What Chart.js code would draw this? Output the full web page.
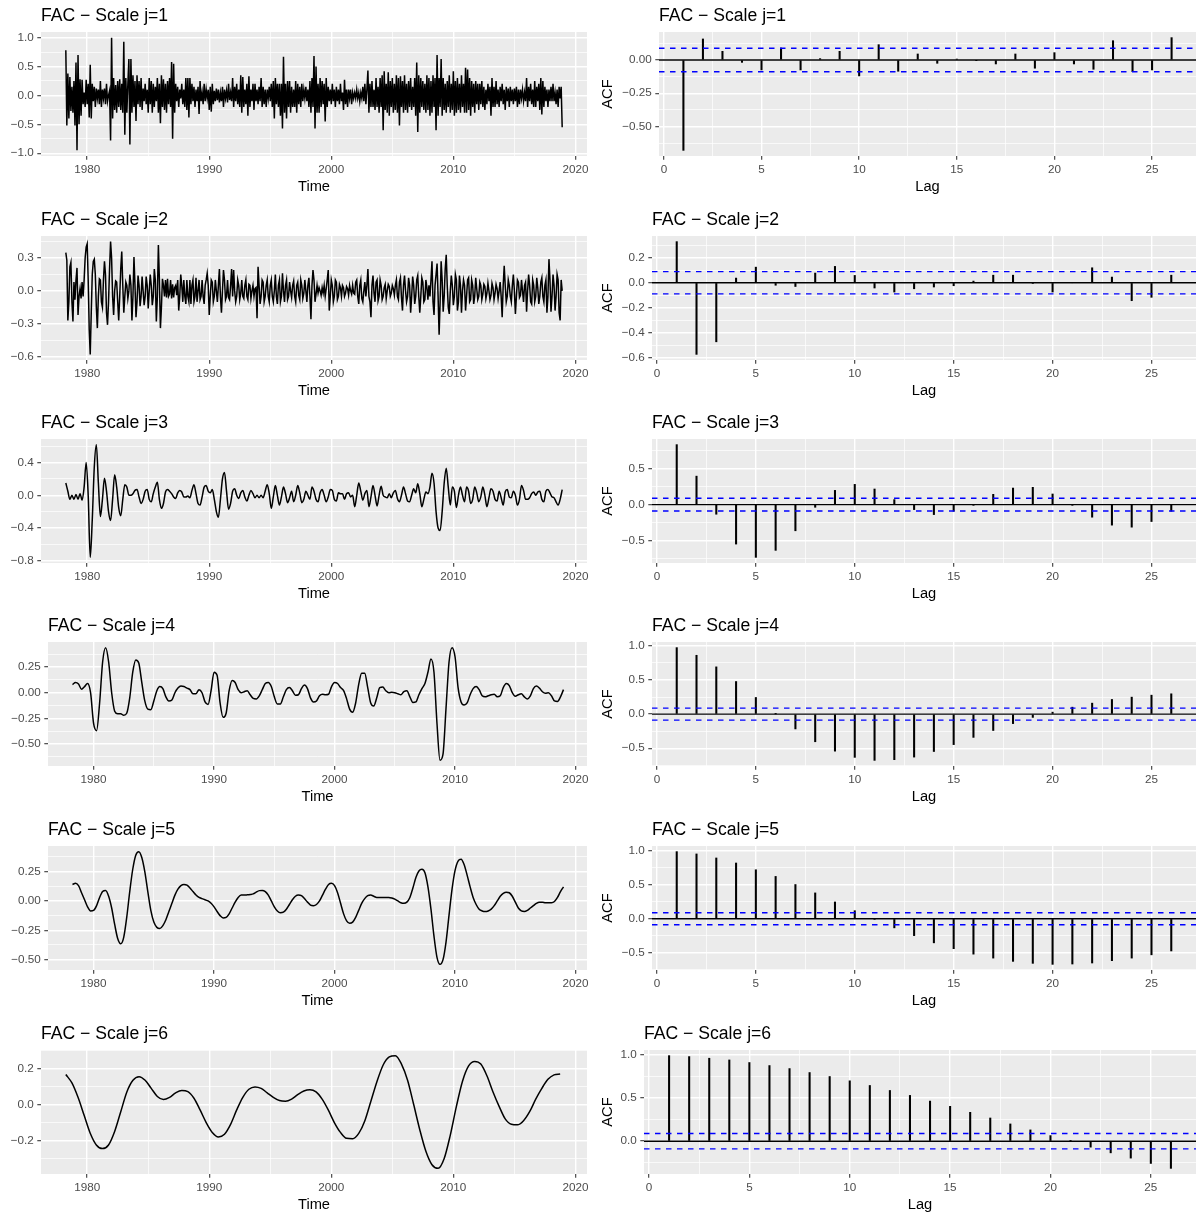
<!DOCTYPE html>
<html>
<head>
<meta charset="utf-8">
<script src="https://cdn.jsdelivr.net/npm/chart.js@4.4.1/dist/chart.umd.min.js"></script>
<style>
    body { margin: 0; background: #ffffff; }
    #page { position: relative; width: 1198px; height: 1216px; background: #ffffff; }
    #page canvas { position: absolute; }
</style>
</head>
<body>
<div id="page"></div>
<script>
// first observation: April 1978
const startYear = 1978.25;

// scale 1 and 2 detail coefficients, monthly
const fac1 = [
    0.78, -0.52, 0.38, -0.40, 0.32, -0.27, 0.15, -0.30, 0.25,
    -0.52, 0.57, -0.95, 0.70, -0.50, 0.28, -0.35, 0.27, -0.15, 0.05, -0.20, 0.27,
    -0.15, 0.20, -0.38, 0.53, -0.40, 0.20, -0.10, 0.15, -0.20, 0.12, -0.05, 0.10,
    -0.15, 0.25, -0.20, 0.10, -0.05, 0.12, -0.15, 0.20, -0.10, 0.00, 0.08, -0.78,
    1.00, -0.40, 0.30, -0.25, 0.18, -0.30, 0.25, -0.20, 0.28, -0.25, 0.20, -0.30,
    0.93, -0.68, 0.30, -0.30, 0.20, 0.63, -0.85, 0.63, -0.30, 0.35, -0.20, 0.25,
    -0.44, 0.35, -0.15, 0.25, -0.20, 0.30, -0.25, 0.12, -0.10, 0.20, -0.15, 0.10,
    -0.30, 0.30, -0.15, 0.25, -0.30, 0.20, -0.20, 0.15, -0.10, 0.30, -0.30, 0.20,
    -0.48, 0.35, -0.20, 0.28, -0.25, 0.20, -0.30, 0.25, -0.15, 0.30, -0.20, 0.58,
    -0.75, 0.55, -0.30, 0.20, -0.10, 0.15, -0.20, 0.10, -0.05, 0.20, -0.15, 0.10,
    -0.20, 0.30, -0.25, 0.30, -0.38, 0.30, -0.15, 0.20, -0.10, 0.15, -0.20, 0.10,
    -0.10, 0.15, -0.32, 0.25, -0.10, 0.05, -0.15, 0.20, -0.10, 0.10, -0.05, 0.10,
    -0.25, 0.15, -0.28, 0.20, -0.15, 0.08, -0.10, 0.12, -0.08, 0.10, -0.12, 0.05,
    -0.10, 0.15, -0.20, 0.10, -0.05, 0.08, -0.12, 0.20, -0.08, 0.05, -0.10, 0.30,
    -0.20, 0.15, -0.10, 0.20, -0.15, 0.10, -0.20, 0.35, -0.30, 0.32, -0.20, 0.10,
    -0.15, 0.20, -0.35, 0.33, -0.20, 0.10, -0.10, 0.20, -0.25, 0.20, -0.10, 0.10,
    -0.15, 0.15, -0.10, 0.30, -0.20, 0.15, -0.15, 0.10, -0.20, 0.10, -0.05, 0.15,
    -0.10, 0.20, -0.20, 0.25, -0.40, 0.30, -0.15, 0.20, -0.20, 0.20, -0.35, 0.20,
    -0.57, 0.67, -0.30, 0.20, -0.40, 0.25, -0.20, 0.25, -0.30, 0.15, -0.20, 0.10,
    -0.20, 0.25, -0.30, 0.20, -0.15, 0.15, -0.20, 0.20, -0.10, 0.10, -0.05, 0.15,
    -0.10, 0.10, -0.20, 0.25, -0.30, 0.30, -0.20, 0.68, -0.57, 0.50, -0.30, 0.20,
    -0.30, 0.30, -0.20, 0.25, -0.15, 0.20, -0.45, 0.30, -0.20, 0.15, -0.10, 0.10,
    -0.15, 0.20, -0.10, 0.10, -0.20, 0.15, -0.10, 0.10, -0.15, 0.20, -0.10, 0.05,
    -0.25, 0.27, -0.15, 0.10, -0.20, 0.10, -0.05, 0.10, -0.15, 0.05, -0.05, 0.05,
    -0.05, 0.10, -0.05, 0.05, -0.10, 0.05, -0.05, 0.15, -0.10, 0.20, -0.15, 0.10,
    0.43, -0.30, 0.20, -0.20, 0.25, -0.20, 0.10, -0.25, 0.30, -0.20, 0.15, -0.30,
    0.30, -0.20, 0.35, -0.60, 0.42, -0.25, 0.20, -0.30, 0.40, -0.35, 0.25, -0.20,
    0.30, -0.30, 0.20, -0.25, 0.35, -0.30, 0.30, -0.52, 0.33, -0.20, 0.25, -0.30,
    0.35, -0.25, 0.20, -0.30, 0.25, -0.20, 0.30, -0.25, 0.15, -0.20, 0.30, -0.35,
    0.57, -0.63, 0.35, -0.30, 0.30, -0.20, 0.25, -0.25, 0.20, -0.30, 0.35, -0.25,
    0.30, -0.35, 0.25, -0.30, 0.35, -0.20, 0.30, -0.60, 0.70, -0.35, 0.30, -0.20,
    0.63, -0.35, 0.30, -0.25, 0.20, -0.30, 0.25, -0.20, 0.35, -0.30, 0.20, -0.25,
    0.42, -0.35, 0.25, -0.30, 0.30, -0.25, 0.20, -0.30, 0.35, -0.20, 0.20, -0.30,
    0.48, -0.30, 0.45, -0.25, 0.30, -0.35, 0.25, -0.20, 0.20, -0.30, 0.25, -0.15,
    0.20, -0.25, 0.20, -0.15, 0.25, -0.20, 0.15, -0.25, 0.10, -0.15, 0.20, -0.10,
    0.15, -0.35, 0.30, -0.20, 0.15, -0.20, 0.25, -0.15, 0.10, -0.20, 0.15, -0.10,
    0.20, -0.15, 0.10, -0.25, 0.15, -0.10, 0.12, -0.20, 0.15, -0.10, 0.10, -0.15,
    0.12, -0.10, 0.15, -0.20, 0.10, -0.15, 0.10, -0.05, 0.10, -0.10, 0.05, -0.10,
    0.30, -0.20, 0.15, -0.10, 0.20, -0.15, 0.10, -0.20, 0.25, -0.20, 0.15, -0.10,
    0.20, -0.25, 0.30, -0.33, 0.25, -0.20, 0.15, -0.10, 0.10, -0.20, 0.10, -0.10,
    0.15, -0.10, 0.20, -0.10, 0.05, -0.15, 0.10, -0.20, 0.15, -0.05, 0.15, -0.55
];

const fac2 = [
    0.35, 0.28, -0.27, -0.10, 0.22, 0.26, -0.10, -0.28, 0.08,
    -0.08, 0.10, 0.21, -0.22, -0.05, 0.02, -0.07, 0.08, -0.05, 0.10, 0.30, 0.40,
    0.43, 0.10, -0.35, -0.58, -0.20, 0.15, 0.27, 0.29, 0.15, -0.15, -0.34, -0.05,
    0.11, 0.10, -0.10, -0.15, 0.10, 0.27, 0.15, -0.20, -0.31, -0.10, 0.20, 0.45,
    0.30, -0.05, -0.22, 0.00, 0.09, 0.08, -0.10, -0.27, -0.05, 0.20, 0.36, 0.05,
    -0.20, -0.05, 0.08, 0.05, -0.07, 0.00, 0.15, 0.05, -0.27, -0.05, 0.31, 0.05,
    -0.24, -0.10, 0.14, 0.05, -0.14, -0.05, 0.13, 0.00, -0.13, -0.05, 0.13, 0.05,
    -0.16, 0.00, 0.15, 0.05, -0.13, -0.05, 0.20, 0.10, -0.28, -0.05, 0.42, 0.10,
    -0.34, -0.15, 0.11, 0.05, -0.05, 0.10, -0.06, 0.11, -0.05, -0.03, 0.10, -0.07,
    0.06, -0.06, 0.03, 0.05, -0.04, 0.10, -0.18, -0.05, 0.15, 0.05, -0.10, 0.10,
    -0.05, -0.12, 0.10, -0.05, -0.10, 0.10, -0.12, 0.05, 0.10, -0.10, -0.05, 0.12,
    -0.10, 0.00, 0.10, -0.08, -0.05, 0.10, -0.05, -0.12, 0.05, 0.10, 0.16, 0.05,
    -0.22, -0.05, 0.10, 0.08, -0.10, -0.05, 0.10, 0.00, -0.10, 0.05, 0.20, -0.05,
    -0.20, 0.00, 0.19, 0.10, -0.08, -0.05, 0.10, -0.06, -0.08, 0.05, 0.20, -0.05,
    0.19, 0.00, -0.10, -0.05, 0.10, 0.05, -0.08, -0.02, 0.10, -0.05, -0.07, 0.05,
    0.10, -0.05, -0.08, 0.06, 0.05, -0.07, 0.00, 0.05, -0.05, 0.02, 0.03, -0.25,
    0.22, 0.05, -0.12, -0.05, 0.10, 0.08, -0.10, -0.05, 0.05, 0.10, -0.05, -0.10,
    0.05, 0.10, -0.05, -0.10, 0.00, 0.15, -0.05, -0.12, 0.05, 0.10, -0.10, -0.05,
    0.16, 0.00, -0.10, 0.05, 0.10, -0.08, -0.05, 0.08, 0.00, -0.06, 0.05, 0.09,
    -0.05, -0.10, 0.05, 0.08, -0.04, -0.08, 0.10, 0.05, -0.07, -0.02, 0.10, 0.00,
    -0.10, 0.05, 0.12, -0.05, -0.26, 0.05, 0.19, 0.10, -0.10, -0.03, 0.05, -0.02,
    0.03, 0.00, -0.04, 0.03, -0.02, 0.05, -0.05, 0.02, 0.10, 0.19, -0.18, -0.05,
    0.10, 0.05, -0.10, -0.05, 0.10, 0.08, -0.08, -0.05, 0.06, 0.03, -0.05, 0.05,
    0.03, -0.05, -0.02, 0.04, 0.02, -0.04, 0.05, 0.00, -0.03, 0.05, -0.02, -0.03,
    0.08, 0.10, -0.05, -0.12, 0.05, 0.10, -0.07, -0.10, 0.00, 0.08, -0.05, 0.05,
    0.20, -0.05, -0.10, -0.24, 0.05, 0.14, -0.02, -0.10, 0.08, 0.10, -0.09, -0.05,
    0.10, 0.05, -0.08, -0.05, 0.03, 0.06, -0.07, 0.00, 0.06, 0.04, -0.05, -0.02,
    0.05, 0.02, -0.04, 0.05, 0.10, -0.05, -0.08, 0.08, 0.12, -0.06, -0.18, 0.05,
    0.14, 0.00, -0.10, -0.05, 0.12, 0.05, -0.20, -0.05, 0.13, 0.05, -0.12, -0.05,
    0.10, 0.14, -0.05, -0.20, -0.05, 0.12, 0.08, -0.10, -0.08, 0.10, 0.03, -0.08,
    0.05, -0.05, 0.10, 0.27, -0.10, -0.22, 0.05, 0.15, 0.25, -0.05, -0.40, -0.10,
    0.27, 0.10, -0.19, -0.05, 0.20, 0.33, 0.05, -0.15, -0.21, 0.00, 0.14, 0.05,
    -0.13, -0.05, 0.15, 0.10, -0.18, -0.10, 0.14, 0.05, -0.20, 0.00, 0.10, 0.05,
    -0.18, -0.05, 0.10, 0.12, -0.10, -0.08, 0.10, 0.05, -0.12, -0.05, 0.12, 0.02,
    -0.08, -0.05, 0.08, 0.05, -0.08, -0.03, 0.06, 0.04, -0.07, -0.02, 0.07, 0.00,
    -0.08, -0.04, 0.07, 0.03, -0.08, -0.02, 0.06, 0.02, -0.07, 0.00, 0.08, -0.05,
    -0.24, 0.05, 0.23, 0.05, -0.10, -0.05, 0.10, 0.05, -0.05, -0.10, 0.05, 0.15,
    0.00, -0.21, -0.05, 0.10, 0.08, -0.06, -0.04, 0.10, 0.00, -0.10, 0.05, 0.08,
    -0.19, 0.00, 0.15, 0.05, -0.10, -0.12, 0.10, 0.05, -0.10, -0.05, 0.12, 0.03,
    -0.12, -0.05, 0.08, 0.12, -0.05, -0.10, 0.05, 0.10, -0.20, -0.05, 0.29, 0.10,
    -0.19, -0.05, 0.15, 0.05, -0.18, -0.05, 0.15, 0.10, -0.20, -0.27, 0.10, 0.00
];

// scale 3, every two months
const fac3 = [
    0.15, 0.05, -0.05, 0.00, -0.05,
    0.01, -0.05, 0.02, -0.06, 0.10, 0.40,
    0.00, -0.76, -0.30, 0.35, 0.62, 0.15,
    -0.26, -0.05, 0.21, 0.05, -0.20, -0.31,
    -0.05, 0.25, 0.10, -0.15, -0.25, -0.05,
    0.13, 0.10, 0.00, 0.00, 0.02, 0.06,
    0.07, -0.02, -0.10, -0.05, 0.05, 0.07,
    -0.05, -0.08, 0.02, 0.10, 0.16, -0.05,
    -0.16, -0.10, 0.04, 0.07, 0.05, 0.02,
    -0.02, -0.04, 0.03, 0.06, 0.04, -0.02,
    -0.02, -0.01, -0.03, 0.06, 0.13, 0.02,
    -0.10, -0.12, -0.02, 0.10, 0.12, 0.05,
    0.03, 0.07, -0.05, -0.20, -0.27, -0.05,
    0.20, 0.28, 0.05, -0.17, -0.10, 0.05,
    0.08, 0.00, -0.04, 0.03, 0.06, -0.02,
    -0.07, 0.00, 0.06, 0.02, -0.03, 0.00,
    -0.03, 0.00, -0.03, 0.05, 0.13, 0.02,
    -0.16, -0.02, 0.12, 0.00, -0.12, -0.02,
    0.10, 0.02, -0.09, -0.03, 0.05, -0.08,
    0.00, 0.12, 0.03, -0.09, -0.05, 0.05,
    0.00, -0.05, 0.10, 0.05, -0.05, -0.08,
    0.03, 0.07, 0.00, -0.08, -0.02, 0.07,
    0.06, -0.05, -0.07, 0.03, 0.02, 0.02,
    -0.05, 0.02, 0.03, -0.02, 0.00, -0.14,
    0.00, 0.15, 0.05, -0.06, 0.02, 0.06,
    -0.14, -0.02, 0.12, 0.00, -0.13, 0.00,
    0.11, 0.00, -0.02, -0.03, 0.02, -0.03,
    0.03, 0.06, -0.04, -0.08, 0.00, 0.10,
    0.02, -0.07, -0.08, 0.00, 0.08, 0.03,
    0.14, 0.02, -0.14, -0.05, 0.04, 0.02,
    0.10, 0.27, 0.15, -0.20, -0.40, -0.43,
    -0.20, 0.15, 0.33, 0.10, -0.12, 0.10,
    0.05, -0.15, 0.00, 0.10, 0.00, -0.08,
    0.10, 0.05, -0.10, -0.05, 0.10, 0.03,
    -0.08, -0.02, 0.10, 0.00, -0.14, -0.03,
    0.08, 0.05, -0.05, -0.07, 0.05, -0.03,
    -0.12, 0.04, 0.07, -0.02, -0.03, 0.05,
    0.00, -0.12, -0.05, 0.12, 0.06, -0.05,
    -0.05, -0.03, 0.02, 0.04, 0.00, 0.04,
    0.05, -0.05, -0.08, 0.05, 0.07, 0.03,
    -0.02, -0.03, -0.08, -0.12, -0.05, 0.07
];

// scales 4 and 5, quarterly
const fac4 = [
    0.08, 0.10, 0.085,
    0.035, 0.06, 0.09, 0.00,
    -0.30, -0.37, -0.10, 0.30,
    0.44, 0.30, 0.00, -0.18,
    -0.205, -0.205, -0.22, -0.20,
    -0.05, 0.20, 0.32, 0.29,
    0.10, -0.08, -0.16, -0.165,
    -0.08, 0.02, 0.06, 0.04,
    -0.04, -0.08, -0.07, 0.00,
    0.045, 0.065, 0.06, 0.045,
    0.03, -0.01, -0.01, 0.03,
    0.00, -0.09, -0.115, 0.02,
    0.20, 0.17, -0.10, -0.24,
    -0.20, 0.02, 0.12, 0.10,
    0.03, 0.00, 0.01, 0.02,
    -0.02, -0.055, -0.06, -0.03,
    0.03, 0.09, 0.10, 0.06,
    -0.04, -0.11, -0.11, -0.04,
    0.03, 0.05, 0.02, -0.025,
    -0.02, 0.04, 0.075, 0.04,
    -0.05, -0.09, -0.08, -0.03,
    -0.015, -0.02, -0.015, 0.06,
    0.10, 0.09, 0.05, 0.02,
    -0.06, -0.16, -0.19, -0.10,
    0.08, 0.19, 0.19, 0.05,
    -0.10, -0.13, -0.05, 0.05,
    0.055, 0.02, 0.00, 0.005,
    0.00, -0.01, -0.02, 0.01,
    0.02, -0.04, -0.095, -0.09,
    -0.02, 0.04, 0.09, 0.20,
    0.33, 0.20, -0.30, -0.66,
    -0.60, -0.15, 0.30, 0.44,
    0.35, 0.05, -0.09, -0.12,
    -0.10, -0.02, 0.04, 0.06,
    0.03, -0.03, -0.04, -0.03,
    -0.02, -0.015, -0.04, -0.03,
    0.05, 0.09, 0.07, 0.00,
    -0.035, -0.02, -0.01, -0.04,
    -0.06, -0.03, 0.04, 0.065,
    0.045, 0.01, -0.005, 0.00,
    -0.03, -0.08, -0.085, -0.04,
    0.03
];

const fac5 = [
    0.14, 0.15, 0.13,
    0.07, 0.01, -0.05, -0.085,
    -0.08, -0.04, 0.03, 0.08,
    0.09, 0.04, -0.06, -0.20,
    -0.32, -0.365, -0.31, -0.14,
    0.08, 0.27, 0.39, 0.42,
    0.37, 0.25, 0.08, -0.08,
    -0.18, -0.225, -0.235, -0.21,
    -0.16, -0.09, -0.02, 0.05,
    0.10, 0.13, 0.14, 0.135,
    0.11, 0.08, 0.05, 0.03,
    0.02, 0.01, 0.00, -0.02,
    -0.05, -0.09, -0.125, -0.145,
    -0.14, -0.11, -0.06, -0.01,
    0.03, 0.05, 0.05, 0.052,
    0.055, 0.06, 0.075, 0.088,
    0.09, 0.08, 0.05, 0.00,
    -0.05, -0.085, -0.10, -0.095,
    -0.07, -0.03, 0.01, 0.04,
    0.05, 0.045, 0.02, -0.01,
    -0.035, -0.04, -0.03, 0.00,
    0.05, 0.10, 0.14, 0.15,
    0.13, 0.07, -0.02, -0.11,
    -0.17, -0.19, -0.18, -0.14,
    -0.08, -0.02, 0.02, 0.045,
    0.05, 0.04, 0.03, 0.03,
    0.03, 0.03, 0.03, 0.025,
    0.015, 0.00, -0.015, -0.02,
    -0.01, 0.03, 0.11, 0.20,
    0.255, 0.27, 0.24, 0.12,
    -0.07, -0.30, -0.48, -0.54,
    -0.50, -0.35, -0.12, 0.10,
    0.26, 0.34, 0.355, 0.31,
    0.22, 0.12, 0.03, -0.03,
    -0.07, -0.085, -0.09, -0.085,
    -0.07, -0.04, 0.00, 0.04,
    0.065, 0.075, 0.07, 0.04,
    -0.01, -0.06, -0.085, -0.09,
    -0.08, -0.06, -0.04, -0.02,
    -0.01, -0.01, -0.015, -0.015,
    -0.015, -0.005, 0.03, 0.08,
    0.12
];

// scale 6, half-yearly
const fac6 = [
    0.167, 0.12, 0.04, -0.06, -0.16, -0.225, -0.245, -0.225, -0.15, -0.04,
    0.07, 0.135, 0.155, 0.135, 0.09, 0.045, 0.028, 0.04, 0.065, 0.078,
    0.072, 0.035, -0.03, -0.10, -0.155, -0.18, -0.165, -0.11, -0.03, 0.04,
    0.085, 0.098, 0.09, 0.065, 0.04, 0.022, 0.018, 0.03, 0.055, 0.075,
    0.082, 0.07, 0.03, -0.03, -0.10, -0.155, -0.188, -0.19, -0.16, -0.09,
    0.02, 0.13, 0.22, 0.265, 0.272, 0.225, 0.135, 0.00, -0.14, -0.26,
    -0.335, -0.355, -0.30, -0.17, -0.01, 0.13, 0.215, 0.24, 0.225, 0.16,
    0.07, -0.01, -0.08, -0.11, -0.113, -0.09, -0.04, 0.03, 0.09, 0.14,
    0.165, 0.17
];
const seriesStepMonths = [1, 1, 2, 3, 3, 6];

// sample autocorrelations, lags 1..26
const lags = [1, 2, 3, 4, 5, 6, 7, 8, 9, 10, 11, 12, 13, 14, 15, 16, 17, 18, 19, 20, 21, 22, 23, 24, 25, 26];
const acf1 = [-0.68, 0.158, 0.065, -0.018, -0.075, 0.09, -0.075, 0.01, 0.065, -0.12, 0.115, -0.085, 0.045,
    -0.025, 0.007, -0.003, -0.03, 0.045, -0.062, 0.055, -0.03, -0.07, 0.145, -0.088, -0.075, 0.168];
const acf2 = [0.327, -0.57, -0.47, 0.037, 0.124, -0.02, -0.03, 0.077, 0.13, 0.058, -0.042, -0.074, -0.048,
    -0.034, -0.024, 0.013, 0.06, 0.06, -0.005, -0.074, 0.0, 0.119, 0.045, -0.143, -0.116, 0.06];
const acf3 = [0.83, 0.394, -0.133, -0.546, -0.73, -0.633, -0.362, -0.037, 0.197, 0.28, 0.216, 0.069, -0.069,
    -0.138, -0.092, -0.003, 0.142, 0.229, 0.239, 0.147, -0.009, -0.174, -0.284, -0.312, -0.234, -0.092];
const acf4 = [0.975, 0.863, 0.693, 0.478, 0.244, 0.003, -0.217, -0.405, -0.543, -0.634, -0.678, -0.668, -0.63,
    -0.548, -0.447, -0.341, -0.24, -0.139, -0.048, 0.029, 0.102, 0.161, 0.215, 0.249, 0.278, 0.298];
const acf5 = [0.985, 0.951, 0.892, 0.818, 0.719, 0.621, 0.502, 0.379, 0.246, 0.118, -0.01, -0.134, -0.248,
    -0.354, -0.44, -0.52, -0.578, -0.626, -0.655, -0.67, -0.665, -0.65, -0.616, -0.578, -0.53, -0.473];
const acf6 = [0.992, 0.981, 0.962, 0.942, 0.912, 0.877, 0.842, 0.796, 0.75, 0.70, 0.646, 0.588, 0.531,
    0.465, 0.404, 0.335, 0.269, 0.20, 0.131, 0.065, 0.002, -0.069, -0.135, -0.196, -0.258, -0.315];
// 1.96 / sqrt(n), n = 489
const ciBound = 0.0886;

// axis breaks
const timeTicks = [1980, 1990, 2000, 2010, 2020];
const lagTicks = [0, 5, 10, 15, 20, 25];
const seriesTicks = [
    [-1, -0.5, 0, 0.5, 1],
    [-0.6, -0.3, 0, 0.3],
    [-0.8, -0.4, 0, 0.4],
    [-0.5, -0.25, 0, 0.25],
    [-0.5, -0.25, 0, 0.25],
    [-0.2, 0, 0.2]
];
const acfTicks = [
    [-0.5, -0.25, 0],
    [-0.6, -0.4, -0.2, 0, 0.2],
    [-0.5, 0, 0.5],
    [-0.5, 0, 0.5, 1],
    [-0.5, 0, 0.5, 1],
    [0, 0.5, 1]
];

const FONT = '"Liberation Sans", Arial, Helvetica, sans-serif';
const PANEL_H = 198;
const rowTop = [0, 204, 407, 610, 814, 1018];
const seriesAxisWidth = [41, 41, 41, 48, 48, 41];
const acfAxisWidth = [61, 54, 54, 54, 54, 46];

const allSeries = [fac1, fac2, fac3, fac4, fac5, fac6];
const allAcf = [acf1, acf2, acf3, acf4, acf5, acf6];
const page = document.getElementById('page');

// grey panel behind the grid
const panelBackground = {
    id: 'panelBackground',
    beforeDraw(chart) {
        let a = chart.chartArea;
        let ctx = chart.ctx;
        ctx.save();
        ctx.fillStyle = '#EBEBEB';
        ctx.fillRect(a.left, a.top, a.right - a.left, a.bottom - a.top);
        ctx.restore();
    }
};

// title sits flush with the panel's left edge
const panelTitle = {
    id: 'panelTitle',
    defaults: { text: '' },
    afterDraw(chart, args, opts) {
        let ctx = chart.ctx;
        ctx.save();
        ctx.font = '17.6px ' + FONT;
        ctx.fillStyle = '#000000';
        ctx.textBaseline = 'alphabetic';
        ctx.textAlign = 'left';
        ctx.fillText(opts.text, chart.chartArea.left, 20.5);
        ctx.restore();
    }
};

Chart.register(panelBackground, panelTitle);

function expand(lo, hi) {
    let pad = (hi - lo) * 0.05;
    return [lo - pad, hi + pad];
}

function decimals(values) {
    return Math.max(...values.map(v => (String(v).split('.')[1] || '').length));
}

// major breaks plus the minor ones halfway between them
function tickList(major, range) {
    let half = (major[1] - major[0]) / 2;
    let last = 2 * (major.length - 1);
    let out = [];
    for (let k = -1; k <= last + 1; k++) {
        let v = Math.round((major[0] + k * half) * 1e9) / 1e9;
        if (v < range[0] || v > range[1]) continue;
        out.push({ value: v, major: k >= 0 && k <= last && k % 2 === 0 });
    }
    return out;
}

function linearAxis(range, major, size, isX, title) {
    let d = decimals(major);
    return {
        type: 'linear',
        min: range[0],
        max: range[1],
        offset: false,
        afterBuildTicks: s => { s.ticks = tickList(major, range); },
        afterFit: s => {
            if (isX) s.height = size;
            else s.width = size;
        },
        border: { display: false },
        grid: {
            color: '#FFFFFF',
            offset: false,
            lineWidth: c => (c.tick && c.tick.major ? 1.4 : 0.7),
            tickColor: c => (c.tick && c.tick.major ? '#333333' : 'rgba(0,0,0,0)'),
            tickLength: 3.7,
            tickWidth: 1.07
        },
        ticks: {
            autoSkip: false,
            maxRotation: 0,
            minRotation: 0,
            padding: isX ? 2.6 : 3.5,
            color: '#4D4D4D',
            font: { family: FONT, size: 11.7 },
            callback: (v, i, ticks) => (ticks[i].major ? v.toFixed(d).replace('-', '\u2212') : '')
        },
        title: title ? {
            display: true,
            text: title,
            color: '#000000',
            font: { family: FONT, size: 14.67 },
            padding: isX ? { top: 0, bottom: 2.7 } : { top: 1, bottom: 0 }
        } : { display: false }
    };
}

function baseOptions(title, padding, x, y) {
    return {
        responsive: false,
        animation: false,
        devicePixelRatio: 1,
        events: [],
        layout: { padding: padding },
        scales: { x: x, y: y },
        plugins: {
            legend: { display: false },
            tooltip: { enabled: false },
            title: { display: false },
            panelTitle: { text: title }
        }
    };
}

function makeCanvas(left, top, width) {
    let c = document.createElement('canvas');
    c.width = width;
    c.height = PANEL_H;
    c.style.left = left + 'px';
    c.style.top = top + 'px';
    c.style.width = width + 'px';
    c.style.height = PANEL_H + 'px';
    page.appendChild(c);
    return c;
}

//left column: the detail series against time
function drawSeries(i) {
    let values = allSeries[i];
    let step = seriesStepMonths[i] / 12;
    let points = values.map((v, k) => ({ x: startYear + k * step, y: v }));
    let xRange = expand(startYear, startYear + (fac1.length - 1) / 12);
    let yRange = expand(Math.min(...values), Math.max(...values));
    let smooth = seriesStepMonths[i] > 1;

    new Chart(makeCanvas(0, rowTop[i], 598), {
        type: 'line',
        data: {
            datasets: [{
                data: points,
                borderColor: '#000000',
                borderWidth: 1.5,
                pointRadius: 0,
                fill: false,
                tension: smooth ? 0.4 : 0,
                cubicInterpolationMode: smooth ? 'monotone' : 'default'
            }]
        },
        options: baseOptions('FAC \u2212 Scale j=' + (i + 1), { top: 32, right: 11, bottom: 0, left: 0 },
            linearAxis(xRange, timeTicks, 42, true, 'Time'),
            linearAxis(yRange, seriesTicks[i], seriesAxisWidth[i], false, null))
    });
}

//right column: autocorrelation spikes with the 95% band
function drawAcf(i) {
    let values = allAcf[i];
    let xRange = expand(Math.min(...lags), Math.max(...lags));
    let yRange = expand(Math.min(0, -ciBound, ...values), Math.max(0, ciBound, ...values));
    let across = y => [{ x: xRange[0], y: y }, { x: xRange[1], y: y }];
    let band = y => ({
        type: 'line',
        data: across(y),
        borderColor: '#0000FF',
        borderWidth: 1.4,
        borderDash: [5.5, 5.5],
        pointRadius: 0,
        fill: false,
        order: 0
    });

    new Chart(makeCanvas(598, rowTop[i], 600), {
        type: 'bar',
        data: {
            datasets: [
                {
                    type: 'bar',
                    data: lags.map((l, k) => ({ x: l, y: values[k] })),
                    backgroundColor: '#000000',
                    borderWidth: 0,
                    barThickness: 1.4,
                    grouped: false,
                    order: 1
                },
                {
                    type: 'line',
                    data: across(0),
                    borderColor: '#000000',
                    borderWidth: 1.4,
                    pointRadius: 0,
                    fill: false,
                    order: 2
                },
                band(ciBound),
                band(-ciBound)
            ]
        },
        options: baseOptions('FAC \u2212 Scale j=' + (i + 1), { top: 32, right: 2, bottom: 0, left: 0 },
            linearAxis(xRange, lagTicks, 42, true, 'Lag'),
            linearAxis(yRange, acfTicks[i], acfAxisWidth[i], false, 'ACF'))
    });
}

for (let i = 0; i < 6; i++) {
    drawSeries(i);
    drawAcf(i);
}
</script>
</body>
</html>
